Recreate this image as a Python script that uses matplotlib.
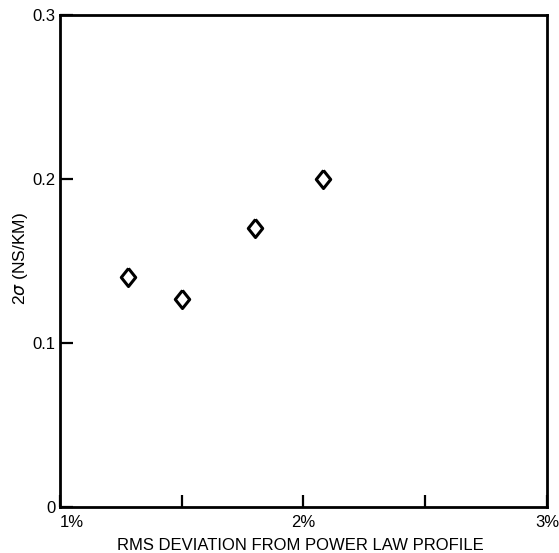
import matplotlib
matplotlib.use("Agg")
import matplotlib.pyplot as plt

# data
rms_deviation = [1.28, 1.50, 1.80, 2.08]   # percent
two_sigma = [0.140, 0.127, 0.170, 0.200]   # ns/km

x_ticks = [1.0, 1.5, 2.0, 2.5, 3.0]
x_tick_labels = ["1%", "", "2%", "", "3%"]
y_ticks = [0.0, 0.1, 0.2, 0.3]
y_tick_labels = ["0", "0.1", "0.2", "0.3"]

plt.rcParams['font.family'] = ['Liberation Sans', 'DejaVu Sans']
plt.rcParams['mathtext.fontset'] = 'dejavusans'

fig = plt.figure(figsize=(5.59, 5.53), dpi=100)
ax = fig.add_axes([0.1073, 0.0832, 0.8712, 0.8897])

diamond = [(0, 1), (0.8, 0), (0, -1), (-0.8, 0), (0, 1)]
ax.plot(rms_deviation, two_sigma, linestyle='none', marker=diamond,
        markersize=13, markerfacecolor='white', markeredgecolor='black',
        markeredgewidth=2.2)

ax.set_xlim(1.0, 3.0)
ax.set_ylim(0.0, 0.3)
ax.set_xticks(x_ticks)
ax.set_xticklabels(x_tick_labels)
ax.set_yticks(y_ticks)
ax.set_yticklabels(y_tick_labels)

for spine in ax.spines.values():
    spine.set_linewidth(2)

ax.tick_params(axis='x', direction='in', length=9, width=1.6, pad=6,
               labelsize=12)
ax.tick_params(axis='y', direction='in', length=9, width=1.6, pad=3,
               labelsize=12)
ax.get_xticklabels()[0].set_horizontalalignment('left')

ax.set_xlabel("RMS DEVIATION FROM POWER LAW PROFILE", fontsize=12)
ax.xaxis.set_label_coords(0.493, -0.079)
ax.xaxis.label.set_verticalalignment('center')
ax.set_ylabel(r"2$\sigma$ (NS/KM)", fontsize=12.5)
ax.yaxis.set_label_coords(-0.082, 0.505)
ax.yaxis.label.set_verticalalignment('center')

fig.savefig("out.png", dpi=100)
